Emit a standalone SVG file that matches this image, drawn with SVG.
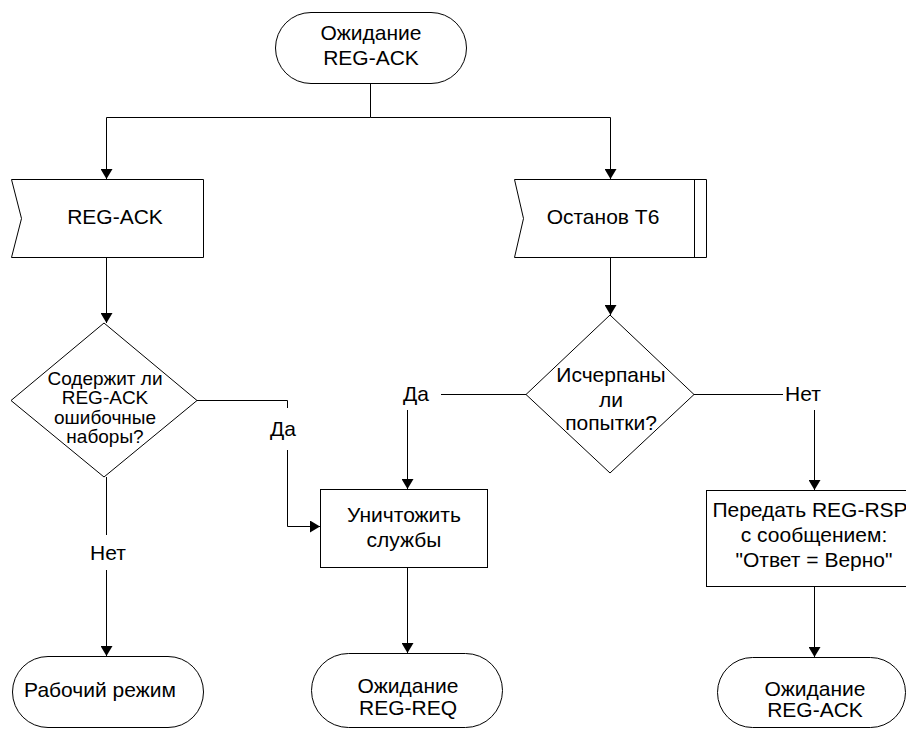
<svg xmlns="http://www.w3.org/2000/svg" width="906" height="729" viewBox="0 0 906 729">
  <defs>
    <marker id="arrow" viewBox="0 0 10 12" refX="10" refY="6" markerWidth="10" markerHeight="12" markerUnits="userSpaceOnUse" orient="auto">
      <path d="M0,0 L10,6 L0,12 Z" fill="#000"/>
    </marker>
  </defs>
  <style>
    .shape { fill: #fff; stroke: #000; stroke-width: 1; }
    .line { fill: none; stroke: #000; stroke-width: 1; }
    .arr { marker-end: url(#arrow); }
    text { font-family: "Liberation Sans", Arial, sans-serif; font-size: 21px; fill: #000; text-anchor: middle; }
    .small { font-size: 19px; }
  </style>
  <rect width="906" height="729" fill="#fff"/>

  <g id="connectors">
    <!-- top fork -->
    <path class="line" d="M370.5,83 V117.5 H106.5"/>
    <path class="line" d="M370.5,117.5 H610.5"/>
    <path class="line arr" d="M106.5,117.5 V179"/>
    <path class="line arr" d="M610.5,117.5 V179"/>
    <!-- signals to decisions -->
    <path class="line arr" d="M106.5,258 V323"/>
    <path class="line arr" d="M610.5,258 V315"/>
    <!-- left decision: yes -->
    <path class="line" d="M197,400.5 H287.5 V408"/>
    <path class="line arr" d="M287.5,450 V526.5 H320"/>
    <!-- left decision: no -->
    <path class="line" d="M106.5,477 V535"/>
    <path class="line arr" d="M106.5,570 V656"/>
    <!-- right decision: yes -->
    <path class="line" d="M526,394.5 H441"/>
    <path class="line arr" d="M407.5,410 V489"/>
    <!-- right decision: no -->
    <path class="line" d="M694,394.5 H783"/>
    <path class="line arr" d="M814.5,410 V490"/>
    <!-- actions to terminals -->
    <path class="line arr" d="M407.5,567 V653"/>
    <path class="line arr" d="M814.5,586 V657"/>
  </g>

  <g id="start">
    <rect class="shape" x="275.5" y="12.5" width="191" height="71" rx="35.5" ry="35.5"/>
    <text x="371" y="40">Ожидание</text>
    <text x="371" y="65">REG-ACK</text>
  </g>

  <g id="signal-reg-ack">
    <path class="shape" d="M11.5,179.5 H203.5 V257.5 H11.5 L21.5,218.5 Z"/>
    <text x="115" y="224">REG-ACK</text>
  </g>

  <g id="signal-stop-t6">
    <path class="shape" d="M514.5,179.5 H706.5 V257.5 H514.5 L523.5,218.5 Z"/>
    <path class="line" d="M694.5,179.5 V257.5"/>
    <text x="603" y="224">Останов Т6</text>
  </g>

  <g id="decision-errors">
    <path class="shape" d="M104,323 L197,400.5 L104,477 L11,400.5 Z"/>
    <text class="small" x="105" y="385">Содержит ли</text>
    <text class="small" x="105" y="404">REG-ACK</text>
    <text class="small" x="105" y="424">ошибочные</text>
    <text class="small" x="105" y="443">наборы?</text>
  </g>

  <g id="decision-retries">
    <path class="shape" d="M610,315 L694,394.5 L610,473 L526,394.5 Z"/>
    <text x="611" y="382">Исчерпаны</text>
    <text x="611" y="407">ли</text>
    <text x="611" y="430">попытки?</text>
  </g>

  <g id="labels">
    <text x="283" y="436">Да</text>
    <text x="108" y="560">Нет</text>
    <text x="416" y="401">Да</text>
    <text x="803" y="401">Нет</text>
  </g>

  <g id="action-destroy">
    <rect class="shape" x="320.5" y="489.5" width="167" height="78"/>
    <text x="404" y="522">Уничтожить</text>
    <text x="404" y="547">службы</text>
  </g>

  <g id="action-send-rsp">
    <rect class="shape" x="706.5" y="490.5" width="216" height="96"/>
    <text x="810" y="517">Передать REG-RSP</text>
    <text x="814" y="542">с сообщением:</text>
    <text x="814" y="567">"Ответ = Верно"</text>
  </g>

  <g id="end-operational">
    <rect class="shape" x="12.5" y="656.5" width="191" height="71" rx="35.5" ry="35.5"/>
    <text x="100" y="697">Рабочий режим</text>
  </g>

  <g id="end-wait-req">
    <rect class="shape" x="311.5" y="653.5" width="191" height="74" rx="37" ry="37"/>
    <text x="408" y="693">Ожидание</text>
    <text x="408" y="715">REG-REQ</text>
  </g>

  <g id="end-wait-ack">
    <rect class="shape" x="717.5" y="657.5" width="188" height="70" rx="35" ry="35"/>
    <text x="815" y="696">Ожидание</text>
    <text x="815" y="717">REG-ACK</text>
  </g>
</svg>
